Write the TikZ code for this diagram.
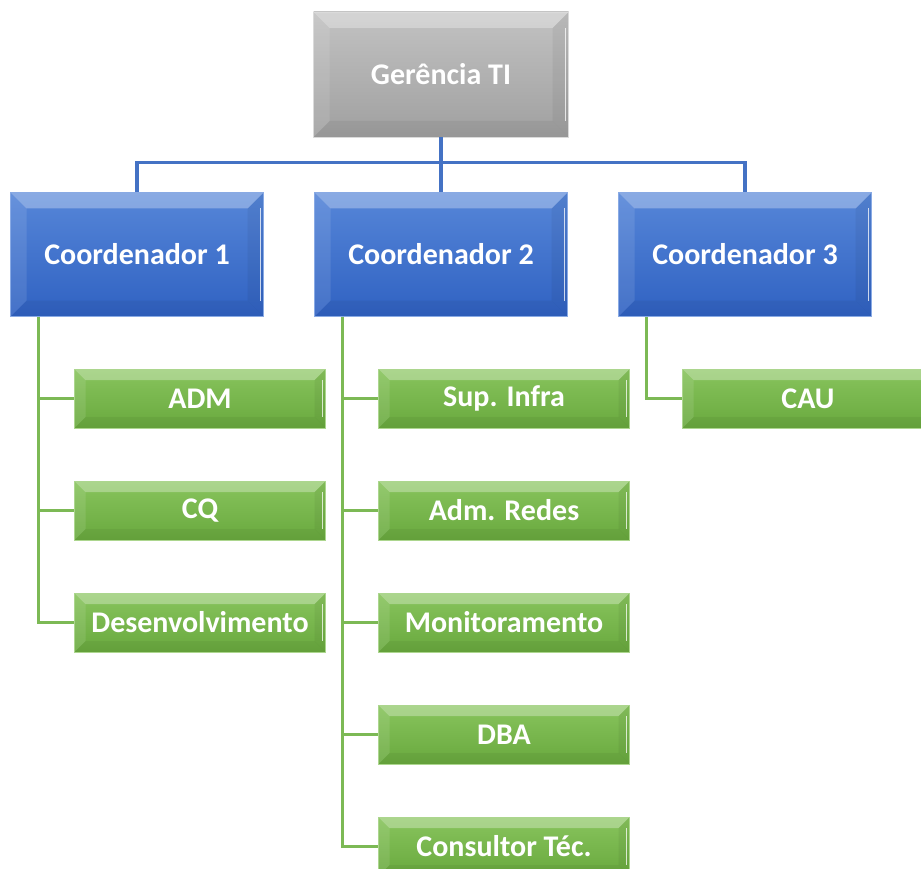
\documentclass[tikz,border=0pt]{standalone}
\usepackage{fontspec}
\setmainfont{Carlito}
\usetikzlibrary{trees}

\definecolor{grayTop}{HTML}{C2C2C2}
\definecolor{grayBot}{HTML}{A0A0A0}
\definecolor{blueTop}{HTML}{5686D8}
\definecolor{blueBot}{HTML}{3062C2}
\definecolor{greenTop}{HTML}{88C45D}
\definecolor{greenBot}{HTML}{69A93E}
\definecolor{blueLine}{HTML}{4472C4}
\definecolor{greenLine}{HTML}{7CB955}

\tikzset{
  % raised look: light top/left edges, faint bottom/right edges
  bevel/.style={path picture={
    \coordinate (bnw) at (path picture bounding box.north west);
    \coordinate (bne) at (path picture bounding box.north east);
    \coordinate (bsw) at (path picture bounding box.south west);
    \coordinate (bse) at (path picture bounding box.south east);
    \fill[white,opacity=.30] (bnw) -- (bne) -- ([shift={(-#1pt,-#1pt)}]bne)
      -- ([shift={(#1pt,-#1pt)}]bnw) -- cycle;
    \fill[white,opacity=.10] (bnw) -- ([shift={(#1pt,-#1pt)}]bnw)
      -- ([shift={(#1pt,#1pt)}]bsw) -- (bsw) -- cycle;
    \fill[black,opacity=.05] (bne) -- (bse) -- ([shift={(-#1pt,#1pt)}]bse)
      -- ([shift={(-#1pt,-#1pt)}]bne) -- cycle;
    \fill[black,opacity=.05] (bsw) -- (bse) -- ([shift={(-#1pt,#1pt)}]bse)
      -- ([shift={(#1pt,#1pt)}]bsw) -- cycle;
    \draw[white,opacity=.75,line width=1.5pt]
      ([shift={(-3pt,-#1pt)}]bne) -- ([shift={(-3pt,#1pt)}]bse);
  }},
  bevel/.default=16,
  box/.style={rectangle, inner sep=0pt, text=white,
    font=\fontsize{30}{36}\selectfont\bfseries},
  chief/.style={box, bevel, minimum width=255pt, minimum height=125pt,
    top color=grayTop, bottom color=grayBot, draw=grayTop!60!white, line width=.6pt},
  coord/.style={box, bevel, minimum width=253pt, minimum height=124pt,
    top color=blueTop, bottom color=blueBot, draw=blueTop!70!white, line width=.6pt},
  staff/.style={box, bevel=11, minimum width=251pt, minimum height=59pt,
    top color=greenTop, bottom color=greenBot, draw=greenTop!70!white, line width=.6pt},
  orgtree/.style={
    level 1/.style={level distance=180pt, sibling distance=304pt,
      edge from parent/.style={draw=blueLine, line width=3.5pt},
      edge from parent path={(\tikzparentnode.south) -- ++(0,-25pt)
        -| (\tikzchildnode.north)}},
    level 2/.style={
      grow via three points={one child at (63pt,-144pt) and
        two children at (63pt,-144pt) and (63pt,-256pt)},
      edge from parent/.style={draw=greenLine, line width=3pt},
      edge from parent path={([xshift=28pt]\tikzparentnode.south west)
        |- (\tikzchildnode.west)}}
  }
}

\begin{document}
\begin{tikzpicture}[x=1pt,y=1pt,orgtree]
\useasboundingbox (0,0) rectangle (921,-869);
\clip (0,0) rectangle (921,-869);
\node[chief] (gti) at (441,-74.5) {Gerência TI}
    child { node[coord] (coord1) {Coordenador 1}
            child { node[staff] (adm) {ADM} }
            child { node[staff] (cq) {CQ} }
            child { node[staff] (dev) {Desenvolvimento} }
    }
    child { node[coord] (coord2) {Coordenador 2}
            child { node[staff] (infra) {Sup. Infra} }
            child { node[staff] (redes) {Adm. Redes} }
            child { node[staff] (monit) {Monitoramento} }
            child { node[staff] (dba) {DBA} }
            child { node[staff] (cons) {Consultor Téc.} }
    }
    child { node[coord] (coord3) {Coordenador 3}
            child { node[staff] (cau) {CAU} }
    };
\end{tikzpicture}
\end{document}
